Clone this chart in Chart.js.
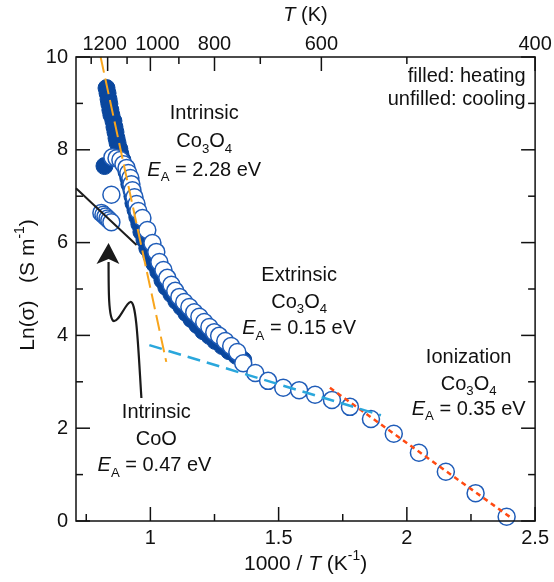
<!DOCTYPE html>
<html>
<head>
<meta charset="utf-8">
<script src="https://cdn.jsdelivr.net/npm/chart.js@4.4.1/dist/chart.umd.min.js"></script>
<style>html,body{margin:0;padding:0;background:#fff}</style>
</head>
<body>
<canvas id="conductivity-chart" width="554" height="582"></canvas>
<script>
// heating run (filled markers), 1000/T vs ln(sigma)
const heatX = [0.829, 0.833, 0.837, 0.840, 0.844, 0.848, 0.856, 0.860, 0.864, 0.868, 0.872, 0.879, 0.883, 0.891,
  0.899, 0.907, 0.914, 0.918, 0.926, 0.930, 0.934, 0.942, 0.949, 0.957, 0.965, 0.977, 0.988, 1.004, 1.016, 1.031,
  1.047, 1.062, 1.082, 1.101, 1.121, 1.140, 1.160, 1.183, 1.206, 1.230, 1.253, 1.280, 1.307, 1.335, 1.362, 0.821];
const heatY = [9.33, 9.22, 9.09, 8.99, 8.86, 8.75, 8.62, 8.49, 8.38, 8.25, 8.15, 8.02, 7.91, 7.78,
  7.65, 7.52, 7.39, 7.26, 7.13, 7.00, 6.85, 6.70, 6.55, 6.40, 6.23, 6.06, 5.88, 5.71, 5.54, 5.37,
  5.19, 5.04, 4.89, 4.74, 4.61, 4.48, 4.35, 4.22, 4.09, 3.99, 3.88, 3.77, 3.66, 3.56, 3.47, 7.65];

// cooling run (open markers)
const coolX = [0.852, 0.868, 0.883, 0.895, 0.907, 0.914, 0.922, 0.926, 0.930, 0.938, 0.946, 0.953, 0.969, 0.988,
  1.008, 1.023, 1.035, 1.051, 1.066, 1.082, 1.097, 1.113, 1.132, 1.152, 1.171, 1.191, 1.210, 1.230, 1.249, 1.268,
  1.292, 1.315, 1.339, 1.362, 1.409, 1.459, 1.518, 1.580, 1.642, 1.708, 1.778, 1.860, 1.949, 2.047, 2.152, 2.268, 2.389,
  0.848, 0.809, 0.817, 0.825, 0.833, 0.840, 0.848];
const coolY = [7.84, 7.82, 7.78, 7.69, 7.61, 7.50, 7.39, 7.26, 7.13, 6.98, 6.83, 6.68, 6.53, 6.27,
  5.99, 5.80, 5.58, 5.41, 5.24, 5.09, 4.96, 4.83, 4.72, 4.61, 4.50, 4.40, 4.29, 4.18, 4.07, 3.99,
  3.88, 3.77, 3.64, 3.40, 3.19, 3.02, 2.87, 2.82, 2.72, 2.61, 2.46, 2.20, 1.88, 1.47, 1.06, 0.60, 0.09,
  7.03, 6.64, 6.60, 6.56, 6.52, 6.48, 6.44];

// Arrhenius fits (end points)
const fitCoOX = [0.71, 0.946];
const fitCoOY = [7.17, 5.95];
const fitIntrX = [0.806, 1.062];
const fitIntrY = [10.0, 3.43];
const fitExtrX = [0.996, 1.899];
const fitExtrY = [3.79, 2.28];
const fitIonX = [1.700, 2.409];
const fitIonY = [2.87, 0.06];

const xTicks = [1, 1.5, 2, 2.5];
const xMinor = [0.75, 1.25, 1.75, 2.25];
const yTicks = [0, 2, 4, 6, 8, 10];
const yMinor = [1, 3, 5, 7, 9];
const tempTicks = [1200, 1000, 800, 600, 400];
const tempMinor = [1300, 1100, 900, 700, 500];
const tempNudge = [-3, 7, 0, 0, 0]; // 1200 and 1000 sit close, pushed apart a bit

const FONT = '"Liberation Sans", Arial, Helvetica, sans-serif';
const pts = (xs, ys) => xs.map((x, i) => ({x: x, y: ys[i]}));

// text runs: [text, style] with style '', 'i', 'sub', 'sup'
function rich(ctx, runs, cx, cy, align, size) {
  let w = 0;
  const parts = runs.map(([t, s]) => {
    const small = s === 'sub' || s === 'sup';
    const font = (s === 'i' ? 'italic ' : '') + (small ? size * 0.66 : size) + 'px ' + FONT;
    ctx.font = font;
    const mw = ctx.measureText(t).width;
    w += mw;
    return {t: t, font: font, w: mw, dy: s === 'sub' ? size * 0.36 : s === 'sup' ? -size * 0.36 : 0};
  });
  let x = align === 'right' ? cx - w : align === 'left' ? cx : cx - w / 2;
  ctx.textAlign = 'left';
  ctx.textBaseline = 'middle';
  parts.forEach(p => { ctx.font = p.font; ctx.fillText(p.t, x, cy + p.dy); x += p.w; });
}

const CO3O4 = [['Co', ''], ['3', 'sub'], ['O', ''], ['4', 'sub']];
const ea = v => [['E', 'i'], ['A', 'sub'], [' = ' + v + ' eV', '']];
const notes = [
  {x: 1.21, y: 8.79, runs: [['Intrinsic', '']]},
  {x: 1.21, y: 8.17, runs: CO3O4},
  {x: 1.21, y: 7.56, runs: ea('2.28')},
  {x: 2.463, y: 9.59, runs: [['filled: heating', '']], align: 'right'},
  {x: 2.463, y: 9.09, runs: [['unfilled: cooling', '']], align: 'right'},
  {x: 1.58, y: 5.30, runs: [['Extrinsic', '']]},
  {x: 1.58, y: 4.72, runs: CO3O4},
  {x: 1.58, y: 4.14, runs: ea('0.15')},
  {x: 2.241, y: 3.53, runs: [['Ionization', '']]},
  {x: 2.241, y: 2.95, runs: CO3O4},
  {x: 2.241, y: 2.41, runs: ea('0.35')},
  {x: 1.023, y: 2.33, runs: [['Intrinsic', '']]},
  {x: 1.023, y: 1.75, runs: [['CoO', '']]},
  {x: 1.016, y: 1.19, runs: ea('0.47')}
];

// curved arrow pointing at the CoO points (bezier segments in data space)
const arrowPath = [[0.965, 2.651], [0.953, 3.685], [0.946, 4.763], [0.922, 4.720],
  [0.903, 4.698], [0.879, 4.289], [0.856, 4.310],
  [0.837, 4.375], [0.837, 4.978], [0.837, 5.582]];
const arrowHead = [[0.837, 5.991], [0.790, 5.539], [0.837, 5.647], [0.879, 5.539]];

const decorations = {
  id: 'decorations',
  afterDraw(chart) {
    const ctx = chart.ctx;
    const a = chart.chartArea;
    const sx = chart.scales.x, sy = chart.scales.y;
    ctx.save();
    ctx.strokeStyle = '#111';
    ctx.fillStyle = '#111';
    ctx.lineWidth = 1.5;
    ctx.strokeRect(a.left, a.top, a.right - a.left, a.bottom - a.top);
    const tick = (x1, y1, x2, y2) => { ctx.beginPath(); ctx.moveTo(x1, y1); ctx.lineTo(x2, y2); ctx.stroke(); };
    const MAJ = 14, MIN = 7;
    xTicks.forEach(v => { const p = sx.getPixelForValue(v); tick(p, a.bottom, p, a.bottom - MAJ); });
    xMinor.forEach(v => { const p = sx.getPixelForValue(v); tick(p, a.bottom, p, a.bottom - MIN); });
    tempTicks.forEach(t => { const p = sx.getPixelForValue(1000 / t); tick(p, a.top, p, a.top + MAJ); });
    tempMinor.forEach(t => { const p = sx.getPixelForValue(1000 / t); tick(p, a.top, p, a.top + MIN); });
    yTicks.forEach(v => {
      const p = sy.getPixelForValue(v);
      tick(a.left, p, a.left + MAJ, p);
      tick(a.right, p, a.right - MAJ, p);
    });
    yMinor.forEach(v => {
      const p = sy.getPixelForValue(v);
      tick(a.left, p, a.left + MIN, p);
      tick(a.right, p, a.right - MIN, p);
    });

    // top temperature labels
    ctx.font = '20px ' + FONT;
    ctx.textAlign = 'center';
    ctx.textBaseline = 'middle';
    tempTicks.forEach((t, i) => ctx.fillText(String(t), sx.getPixelForValue(1000 / t) + tempNudge[i], a.top - 13));

    // arrow
    ctx.lineWidth = 2.2;
    ctx.strokeStyle = '#1a1a1a';
    const P = q => [sx.getPixelForValue(q[0]), sy.getPixelForValue(q[1])];
    ctx.beginPath();
    let s = P(arrowPath[0]);
    ctx.moveTo(s[0], s[1]);
    for (let i = 1; i + 2 < arrowPath.length; i += 3) {
      const c1 = P(arrowPath[i]), c2 = P(arrowPath[i + 1]), e = P(arrowPath[i + 2]);
      ctx.bezierCurveTo(c1[0], c1[1], c2[0], c2[1], e[0], e[1]);
    }
    ctx.stroke();
    ctx.fillStyle = '#1a1a1a';
    ctx.beginPath();
    arrowHead.forEach((q, i) => { const p = P(q); i ? ctx.lineTo(p[0], p[1]) : ctx.moveTo(p[0], p[1]); });
    ctx.closePath();
    ctx.fill();

    // annotations
    ctx.fillStyle = '#111';
    notes.forEach(n => rich(ctx, n.runs, sx.getPixelForValue(n.x), sy.getPixelForValue(n.y), n.align || 'center', 20));

    // axis titles
    const midX = (a.left + a.right) / 2;
    rich(ctx, [['1000 / ', ''], ['T', 'i'], [' (K', ''], ['-1', 'sup'], [')', '']], midX, 564, 'center', 21);
    rich(ctx, [['T', 'i'], [' (K)', '']], midX, 15, 'center', 20);
    ctx.translate(28, (a.top + a.bottom) / 2 - 4);
    ctx.rotate(-Math.PI / 2);
    rich(ctx, [['Ln(σ)   (S m', ''], ['-1', 'sup'], [')', '']], 0, 0, 'center', 21);
    ctx.restore();
  }
};

const fitLine = (xs, ys, color, dash, width) => ({
  data: pts(xs, ys), showLine: true, pointRadius: 0, borderColor: color,
  borderWidth: width, borderDash: dash, clip: false
});

const tickFont = {family: FONT, size: 20};

new Chart(document.getElementById('conductivity-chart').getContext('2d'), {
  type: 'scatter',
  data: {
    datasets: [
      fitLine(fitCoOX, fitCoOY, '#1c1c1c', [], 2),
      fitLine(fitIntrX, fitIntrY, '#f8a51c', [16, 6], 2),
      fitLine(fitExtrX, fitExtrY, '#2aa7dc', [13, 7], 2.5),
      fitLine(fitIonX, fitIonY, '#ff4a12', [5, 4], 2.5),
      {
        label: 'cooling', data: pts(coolX, coolY), pointRadius: 8.5,
        pointBackgroundColor: '#ffffff', pointBorderColor: '#1f5cb8', pointBorderWidth: 1.5, clip: false
      },
      {
        label: 'heating', data: pts(heatX, heatY), pointRadius: 8.5,
        pointBackgroundColor: '#0a479e', pointBorderColor: '#0a479e', pointBorderWidth: 1, clip: false
      }
    ]
  },
  plugins: [decorations],
  options: {
    responsive: false,
    animation: false,
    events: [],
    layout: {padding: {left: 0, right: 17, top: 0, bottom: 0}},
    plugins: {legend: {display: false}, tooltip: {enabled: false}},
    scales: {
      x: {
        type: 'linear', position: 'bottom', min: 0.71, max: 2.5,
        grid: {display: false, drawTicks: false}, border: {display: false},
        afterBuildTicks: s => { s.ticks = xTicks.map(v => ({value: v})); },
        afterFit: s => { s.height = 61; },
        ticks: {color: '#111', font: tickFont, padding: 5, maxRotation: 0, callback: v => String(v)}
      },
      xTop: {
        type: 'linear', position: 'top', min: 0.71, max: 2.5,
        grid: {display: false, drawTicks: false}, border: {display: false},
        afterFit: s => { s.height = 57; },
        ticks: {display: false}
      },
      y: {
        type: 'linear', position: 'left', min: 0, max: 10,
        grid: {display: false, drawTicks: false}, border: {display: false},
        afterBuildTicks: s => { s.ticks = yTicks.map(v => ({value: v})); },
        afterFit: s => { s.width = 76; },
        ticks: {color: '#111', font: tickFont, padding: 8}
      }
    }
  }
});
</script>
</body>
</html>
